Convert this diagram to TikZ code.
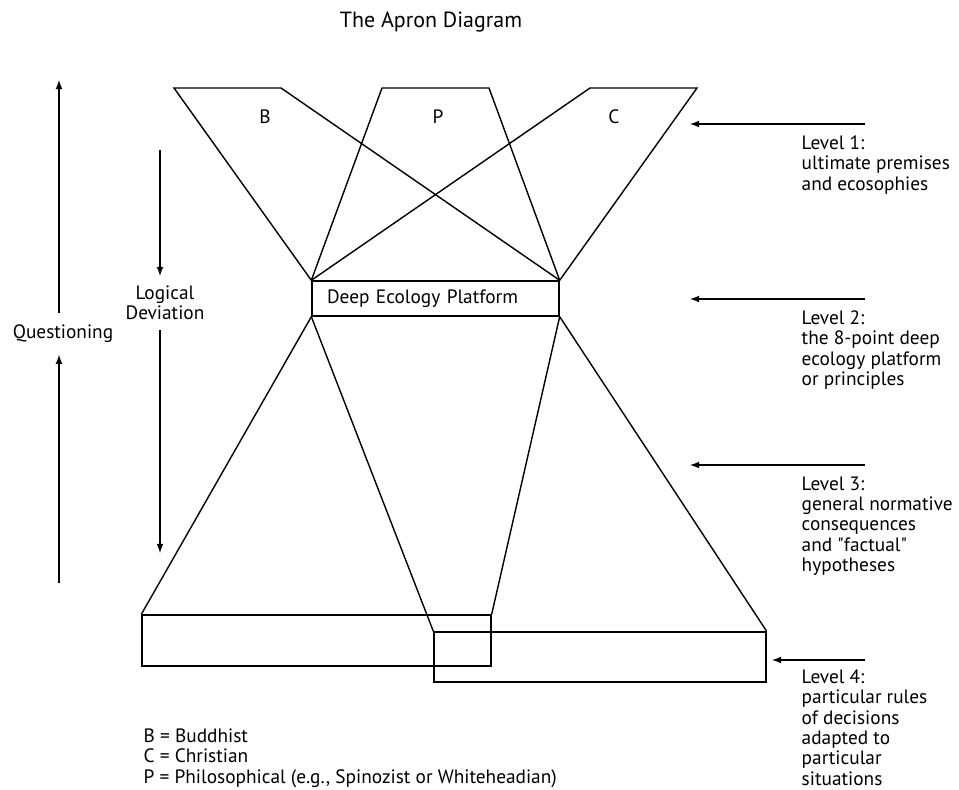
\documentclass[tikz,border=0pt]{standalone}
\usepackage{fontspec}
\setmainfont{PT Sans}[Ligatures=TeXOff]
\begin{document}
\begin{tikzpicture}[x=0.02cm,y=-0.02cm,every path/.style={>=latex,line width=0.8pt},
                    every node/.style={font=\fontsize{11}{11.6}\selectfont,inner sep=0pt}]
\useasboundingbox (0,0) rectangle (959,790);
\node[font=\fontsize{12.5}{14}\selectfont] (title) at (431,22) { The Apron Diagram };
% level 1 and 2
\coordinate (b1) at (174,88);
\coordinate (b2) at (281,88);
\coordinate (p1) at (382,88);
\coordinate (p2) at (489,88);
\coordinate (c1) at (590,88);
\coordinate (c2) at (697,88);
\node[draw,text width=4.34cm,inner xsep=0.3cm,align=left,minimum height=0.7cm] (plat) at (435.5,298.5) { Deep Ecology Platform };
\node (lb) at (265,117) { B };
\node (lp) at (438,117) { P };
\node (lc) at (614,117) { C };
\draw (plat.north west) -- (b1) -- (b2) -- (plat.north east);
\draw (plat.north west) -- (p1) -- (p2) -- (plat.north east);
\draw (plat.north west) -- (c1) -- (c2) -- (plat.north east);
% level 3 and 4
\node[draw,minimum width=6.98cm,minimum height=1.02cm] (lbox) at (316.5,640.5) {};
\node[draw,minimum width=6.64cm,minimum height=1.0cm]  (rbox) at (600,657)     {};
\draw (plat.south west) -- (lbox.north west);
\draw (plat.south west) -- (rbox.north west);
\draw (plat.south east) -- (lbox.north east);
\draw (plat.south east) -- (rbox.north east);
% left arrows
\node[inner ysep=6.3pt] (quest) at (63,334) { Questioning };
\coordinate (qt) at (59,80);
\coordinate (qb) at (59,583);
\draw[->] (qt |- quest.north) -- (qt);
\draw[->] (qb) -- (qb |- quest.south);
\node[align=center,inner ysep=5.2pt] (logdev) at (165,303) { Logical\\Deviation };
\coordinate (lt) at (160,150);
\coordinate (lbot) at (160,553);
\draw[->] (lt) -- (lt |- logdev.north);
\draw[->] (lbot |- logdev.south) -- (lbot);
% right arrows
\node[anchor=north west,align=left] (lev1) at (801,135) { Level 1:\\ultimate premises\\and ecosophies };
\node[anchor=north west,align=left] (lev2) at (801,310) { Level 2:\\the 8-point deep\\ecology platform\\or principles };
\node[anchor=north west,align=left] (lev3) at (801,476) { Level 3:\\general normative\\consequences\\and "factual"\\hypotheses };
\node[anchor=north west,align=left] (lev4) at (801,669) { Level 4:\\particular rules\\of decisions\\adapted to\\particular\\situations };
\coordinate (t1) at (865,124); \coordinate (h1) at (690,124);
\coordinate (t2) at (865,299); \coordinate (h2) at (690,299);
\coordinate (t3) at (865,465); \coordinate (h3) at (690,465);
\coordinate (t4) at (865,660); \coordinate (h4) at (772,660);
\draw[->] (t1) -- (h1);
\draw[->] (t2) -- (h2);
\draw[->] (t3) -- (h3);
\draw[->] (t4) -- (h4);
% key
\node[anchor=north west,align=left] (key) at (143,728) { B = Buddhist\\C = Christian\\P = Philosophical (e.g., Spinozist or Whiteheadian) };
\end{tikzpicture}
\end{document}
